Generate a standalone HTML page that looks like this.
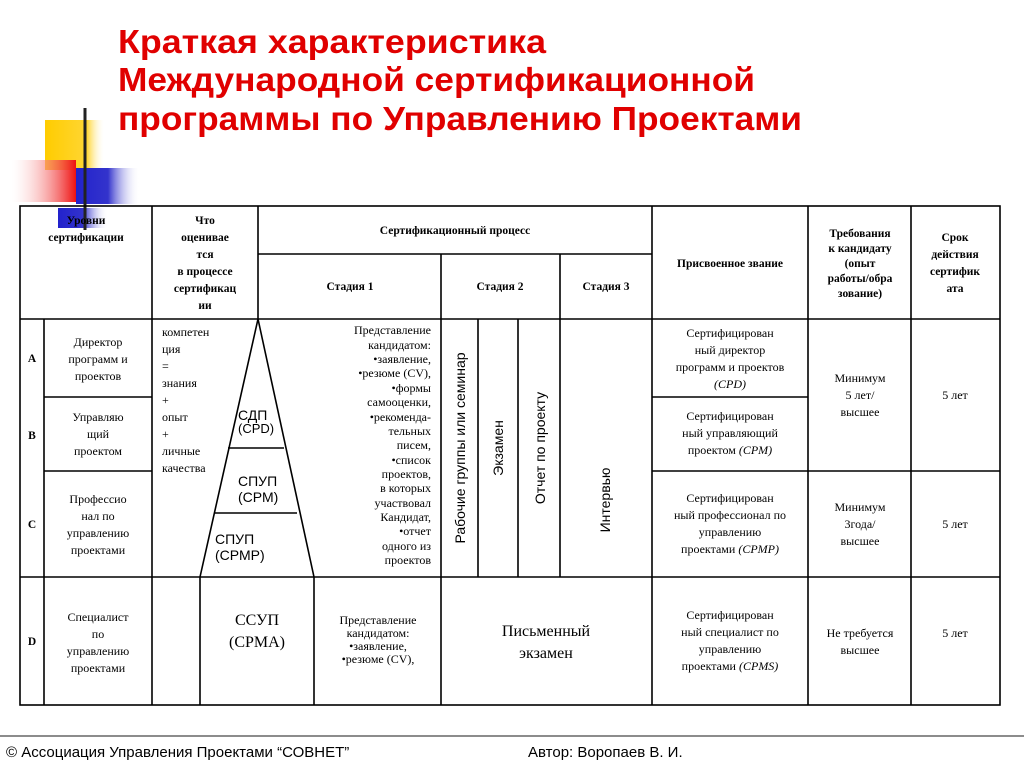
<!DOCTYPE html>
<html><head><meta charset="utf-8"><style>
html,body{margin:0;padding:0;background:#fff;}
svg{display:block;}
.t{font-family:"Liberation Serif",serif;font-size:12px;fill:#000;}
.b{font-family:"Liberation Serif",serif;font-size:11.5px;font-weight:bold;fill:#000;}
.s{font-family:"Liberation Sans",sans-serif;fill:#000;}
.big{font-size:16px;}
</style></head><body>
<svg width="1024" height="767" viewBox="0 0 1024 767" xmlns="http://www.w3.org/2000/svg">
<defs>
<linearGradient id="gy" x1="0" x2="1"><stop offset="0" stop-color="#ffcc00"/><stop offset="0.7" stop-color="#ffd633"/><stop offset="1" stop-color="#fff" stop-opacity="0"/></linearGradient>
<linearGradient id="gr" x1="1" x2="0"><stop offset="0" stop-color="#ee1111"/><stop offset="1" stop-color="#fff" stop-opacity="0.2"/></linearGradient>
<linearGradient id="gb" x1="0" x2="1"><stop offset="0" stop-color="#2222cc"/><stop offset="0.5" stop-color="#3333cc"/><stop offset="1" stop-color="#fff" stop-opacity="0"/></linearGradient>
<linearGradient id="gl" x1="0" x2="1"><stop offset="0" stop-color="#222"/><stop offset="0.6" stop-color="#555"/><stop offset="1" stop-color="#bbb"/></linearGradient>
</defs>
<rect width="1024" height="767" fill="#fff"/>
<rect x="45" y="120" width="60" height="50" fill="url(#gy)"/>
<rect x="12" y="160" width="64" height="42" fill="url(#gr)"/>
<rect x="76" y="168" width="64" height="36" fill="url(#gb)"/>
<rect x="58" y="208" width="50" height="20" fill="url(#gb)"/>
<line x1="48" y1="200" x2="1010" y2="200" stroke="url(#gl)" stroke-width="3"/>
<line x1="85" y1="108" x2="85" y2="230" stroke="#222" stroke-width="3"/>
<g font-family="Liberation Sans,sans-serif" font-weight="bold" font-size="33" fill="#e00000">
<text x="118" y="53" textLength="428" lengthAdjust="spacingAndGlyphs">Краткая характеристика</text>
<text x="118" y="91" textLength="637" lengthAdjust="spacingAndGlyphs">Международной сертификационной</text>
<text x="118" y="130" textLength="684" lengthAdjust="spacingAndGlyphs">программы по Управлению Проектами</text>
</g>
<g stroke="#000" stroke-width="1.6" fill="none">
<rect x="20" y="206" width="980" height="499"/>
<line x1="20" y1="319" x2="1000" y2="319"/>
<line x1="20" y1="577" x2="1000" y2="577"/>
<line x1="258" y1="254" x2="652" y2="254"/>
<line x1="44" y1="397" x2="152" y2="397"/>
<line x1="44" y1="471" x2="152" y2="471"/>
<line x1="652" y1="397" x2="808" y2="397"/>
<line x1="652" y1="471" x2="1000" y2="471"/>
<line x1="44" y1="319" x2="44" y2="705"/>
<line x1="152" y1="206" x2="152" y2="705"/>
<line x1="258" y1="206" x2="258" y2="319"/>
<line x1="441" y1="254" x2="441" y2="705"/>
<line x1="560" y1="254" x2="560" y2="577"/>
<line x1="478" y1="319" x2="478" y2="577"/>
<line x1="518" y1="319" x2="518" y2="577"/>
<line x1="652" y1="206" x2="652" y2="705"/>
<line x1="808" y1="206" x2="808" y2="705"/>
<line x1="911" y1="206" x2="911" y2="705"/>
<line x1="200" y1="577" x2="200" y2="705"/>
<line x1="314" y1="577" x2="314" y2="705"/>
<line x1="258" y1="319" x2="200" y2="577"/>
<line x1="258" y1="319" x2="314" y2="577"/>
<line x1="228" y1="448" x2="284" y2="448"/>
<line x1="214" y1="513" x2="297" y2="513"/>
</g>
<g class="b" text-anchor="middle">
<text x="86" y="224">Уровни</text><text x="86" y="241">сертификации</text>
<text x="205" y="224">Что</text><text x="205" y="241">оценивае</text><text x="205" y="258">тся</text><text x="205" y="275">в процессе</text><text x="205" y="292">сертификац</text><text x="205" y="309">ии</text>
<text x="455" y="234">Сертификационный процесс</text>
<text x="350" y="290">Стадия 1</text>
<text x="500" y="290">Стадия 2</text>
<text x="606" y="290">Стадия 3</text>
<text x="730" y="267">Присвоенное звание</text>
<text x="860" y="237">Требования</text><text x="860" y="252">к кандидату</text><text x="860" y="267">(опыт</text><text x="860" y="282">работы/обра</text><text x="860" y="297">зование)</text>
<text x="955" y="241">Срок</text><text x="955" y="258">действия</text><text x="955" y="275">сертифик</text><text x="955" y="292">ата</text>
<text x="32" y="362">A</text><text x="32" y="439">B</text><text x="32" y="528">C</text><text x="32" y="645">D</text>
</g>
<g class="t" text-anchor="middle">
<text x="98" y="346">Директор</text><text x="98" y="363">программ и</text><text x="98" y="380">проектов</text>
<text x="98" y="421">Управляю</text><text x="98" y="438">щий</text><text x="98" y="455">проектом</text>
<text x="98" y="503">Профессио</text><text x="98" y="520">нал по</text><text x="98" y="537">управлению</text><text x="98" y="554">проектами</text>
<text x="98" y="621">Специалист</text><text x="98" y="638">по</text><text x="98" y="655">управлению</text><text x="98" y="672">проектами</text>
<text x="730" y="337">Сертифицирован</text><text x="730" y="354">ный директор</text><text x="730" y="371">программ и проектов</text><text x="730" y="388" font-style="italic">(CPD)</text>
<text x="730" y="420">Сертифицирован</text><text x="730" y="437">ный управляющий</text><text x="730" y="454">проектом <tspan font-style="italic">(CPM)</tspan></text>
<text x="730" y="502">Сертифицирован</text><text x="730" y="519">ный профессионал по</text><text x="730" y="536">управлению</text><text x="730" y="553">проектами <tspan font-style="italic">(CPMP)</tspan></text>
<text x="730" y="619">Сертифицирован</text><text x="730" y="636">ный специалист по</text><text x="730" y="653">управлению</text><text x="730" y="670">проектами <tspan font-style="italic">(CPMS)</tspan></text>
<text x="860" y="382">Минимум</text><text x="860" y="399">5 лет/</text><text x="860" y="416">высшее</text>
<text x="955" y="399">5 лет</text>
<text x="860" y="511">Минимум</text><text x="860" y="528">3года/</text><text x="860" y="545">высшее</text>
<text x="955" y="528">5 лет</text>
<text x="860" y="637">Не требуется</text><text x="860" y="654">высшее</text>
<text x="955" y="637">5 лет</text>
<text x="378" y="624">Представление</text><text x="378" y="637">кандидатом:</text><text x="378" y="650">•заявление,</text><text x="378" y="663">•резюме (CV),</text>
</g>
<g class="t" text-anchor="end">
<text x="431" y="334">Представление</text><text x="431" y="349">кандидатом:</text><text x="431" y="363">•заявление,</text><text x="431" y="377">•резюме (CV),</text><text x="431" y="392">•формы</text><text x="431" y="406">самооценки,</text><text x="431" y="421">•рекоменда-</text><text x="431" y="435">тельных</text><text x="431" y="449">писем,</text><text x="431" y="464">•список</text><text x="431" y="478">проектов,</text><text x="431" y="492">в которых</text><text x="431" y="507">участвовал</text><text x="431" y="521">Кандидат,</text><text x="431" y="535">•отчет</text><text x="431" y="550">одного из</text><text x="431" y="564">проектов</text>
</g>
<g class="t">
<text x="162" y="336">компетен</text><text x="162" y="353">ция</text><text x="162" y="370">=</text><text x="162" y="387">знания</text><text x="162" y="404">+</text><text x="162" y="421">опыт</text><text x="162" y="438">+</text><text x="162" y="455">личные</text><text x="162" y="472">качества</text>
</g>
<g class="s" font-size="14">
<text x="238" y="420">СДП</text><text x="238" y="433" font-size="13">(CPD)</text>
<text x="238" y="486">СПУП</text><text x="238" y="502">(СРМ)</text>
<text x="215" y="544">СПУП</text><text x="215" y="560">(СРМР)</text>
</g>
<g class="s" font-size="14" text-anchor="middle">
<text transform="translate(465,448) rotate(-90)">Рабочие группы или семинар</text>
<text transform="translate(503,448) rotate(-90)">Экзамен</text>
<text transform="translate(545,448) rotate(-90)">Отчет по проекту</text>
<text transform="translate(610,500) rotate(-90)">Интервью</text>
</g>
<g class="t big" text-anchor="middle">
<text x="257" y="625">ССУП</text><text x="257" y="647">(CPMA)</text>
<text x="546" y="636">Письменный</text><text x="546" y="658">экзамен</text>
</g>
<line x1="0" y1="736" x2="1024" y2="736" stroke="#666" stroke-width="1.5"/>
<text class="s" x="6" y="757" font-size="15">© Ассоциация Управления Проектами “СОВНЕТ”</text>
<text class="s" x="528" y="757" font-size="15">Автор: Воропаев В. И.</text>
</svg>
</body></html>
